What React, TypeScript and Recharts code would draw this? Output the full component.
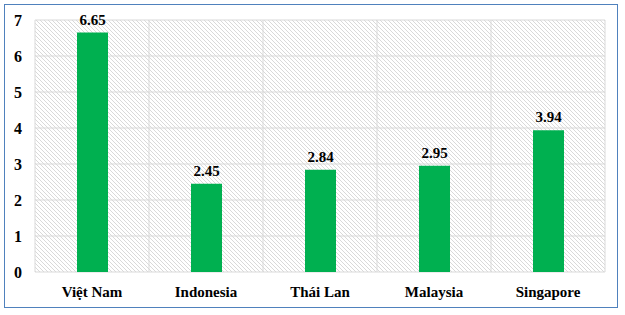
import React from "react";
import {
  BarChart,
  Bar,
  XAxis,
  YAxis,
  CartesianGrid,
  LabelList,
} from "recharts";

const countries = ["Việt Nam", "Indonesia", "Thái Lan", "Malaysia", "Singapore"];
const values = [6.65, 2.45, 2.84, 2.95, 3.94];
const yTicks = [0, 1, 2, 3, 4, 5, 6, 7];
const gridTicks = [0, 1, 2, 3, 4, 5];

const font = "Liberation Serif, Times New Roman, serif";

const App: React.FC = () => {
  const chartData = countries.map((name, i) => ({
    name,
    value: values[i],
    pos: i + 0.5,
  }));

  return (
    <div
      style={{
        position: "fixed",
        left: 0,
        top: 0,
        width: 625,
        height: 315,
        background: "#fff",
        fontFamily: font,
        fontWeight: "bold",
      }}
    >
      <svg width={0} height={0} style={{ position: "absolute" }}>
        <defs>
          <pattern id="hatch" patternUnits="userSpaceOnUse" width={4} height={4}>
            <rect width={4} height={4} fill="#ffffff" />
            <path
              d="M-1,-1 L5,5 M3,-1 L5,1 M-1,3 L1,5"
              stroke="#cfcfcf"
              strokeWidth={0.8}
            />
          </pattern>
        </defs>
      </svg>
      <div
        style={{
          position: "absolute",
          left: 4,
          top: 4,
          width: 612,
          height: 302,
          border: "1.5px solid #4f81bd",
        }}
      />
      <div style={{ position: "absolute", left: 0, top: 0 }}>
        <BarChart
          width={625}
          height={315}
          data={chartData}
          margin={{ top: 20, right: 20, left: 0, bottom: 0 }}
          style={{ fontFamily: font }}
        >
          <CartesianGrid
            xAxisId="grid"
            stroke="#d9d9d9"
            strokeWidth={1}
            fill="url(#hatch)"
            fillOpacity={1}
            horizontal
            vertical
          />
          <XAxis
            dataKey="name"
            height={43}
            axisLine={false}
            tickLine={false}
            tickSize={0}
            tickMargin={14}
            interval={0}
            tick={{ fontFamily: font, fontSize: 15, fontWeight: "bold", fill: "#000" }}
          />
          <XAxis
            xAxisId="grid"
            type="number"
            dataKey="pos"
            domain={[0, 5]}
            ticks={gridTicks}
            hide
          />
          <YAxis
            width={35}
            domain={[0, 7]}
            ticks={yTicks}
            axisLine={false}
            tickLine={false}
            tickSize={0}
            tickMargin={13}
            tick={{ fontFamily: font, fontSize: 16, fontWeight: "bold", fill: "#000" }}
          />
          <Bar dataKey="value" fill="#00b050" barSize={31} isAnimationActive={false}>
            <LabelList
              dataKey="value"
              position="top"
              offset={8}
              fontFamily={font}
              fontSize={15}
              fontWeight="bold"
              fill="#000"
            />
          </Bar>
        </BarChart>
      </div>
    </div>
  );
};

export default App;
